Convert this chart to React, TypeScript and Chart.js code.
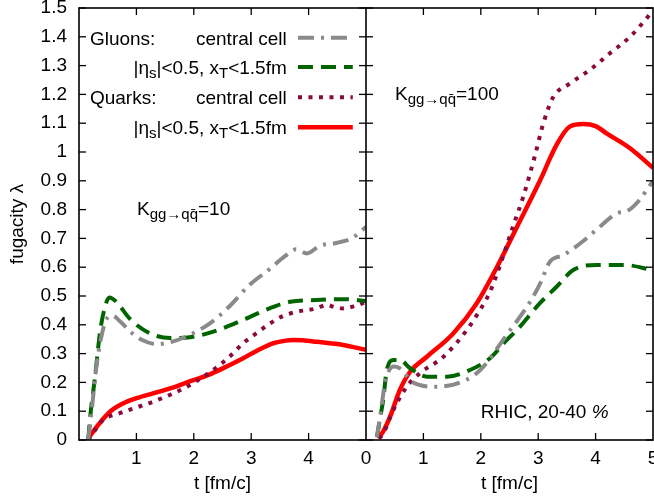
import React, { useEffect, useRef } from 'react';
import { Chart, registerables } from 'chart.js';

Chart.register(...registerables);

const FONT = '"Liberation Sans", Arial, Helvetica, sans-serif';

// ---- tick values / labels ----
const yTicks = [0, 0.1, 0.2, 0.3, 0.4, 0.5, 0.6, 0.7, 0.8, 0.9, 1.0, 1.1, 1.2, 1.3, 1.4, 1.5];
const yTickLabels = ['0', '0.1', '0.2', '0.3', '0.4', '0.5', '0.6', '0.7', '0.8', '0.9', '1', '1.1', '1.2', '1.3', '1.4', '1.5'];
const xTicksLeft = [1, 2, 3, 4];
const xTicksRight = [0, 1, 2, 3, 4, 5];
const innerTicks = [1, 2, 3, 4];

// ---- left panel (K = 10) ----
const gluCentralL_t = [0.16, 0.22, 0.3, 0.38, 0.48, 0.58, 0.7, 0.9, 1.1, 1.35, 1.6, 1.93, 2.28, 2.6, 2.98, 3.3, 3.6, 3.78, 3.97, 4.2, 4.5, 4.75, 5.0];
const gluCentralL_v = [0, 0.1, 0.25, 0.35, 0.42, 0.432, 0.415, 0.375, 0.347, 0.333, 0.34, 0.365, 0.405, 0.46, 0.54, 0.59, 0.64, 0.662, 0.648, 0.675, 0.685, 0.7, 0.74];

const gluEtaL_t = [0.16, 0.2, 0.28, 0.37, 0.45, 0.53, 0.65, 0.89, 1.24, 1.59, 1.93, 2.34, 2.86, 3.33, 3.68, 4.14, 4.6, 5.0];
const gluEtaL_v = [0, 0.09, 0.22, 0.38, 0.46, 0.495, 0.48, 0.42, 0.37, 0.354, 0.357, 0.376, 0.417, 0.458, 0.48, 0.486, 0.489, 0.483];

const qCentralL_t = [0.16, 0.3, 0.42, 0.71, 1.0, 1.29, 1.6, 1.88, 2.28, 2.6, 2.86, 3.1, 3.33, 3.55, 3.79, 4.14, 4.31, 4.45, 4.6, 4.8, 5.0];
const qCentralL_v = [0, 0.04, 0.07, 0.093, 0.113, 0.133, 0.158, 0.185, 0.235, 0.285, 0.336, 0.372, 0.405, 0.43, 0.445, 0.457, 0.469, 0.462, 0.457, 0.465, 0.48];

const qEtaL_t = [0.16, 0.31, 0.54, 0.77, 1.0, 1.29, 1.6, 1.88, 2.28, 2.6, 2.86, 3.1, 3.39, 3.6, 3.73, 3.9, 4.14, 4.6, 5.0];
const qEtaL_v = [0.005, 0.046, 0.098, 0.127, 0.145, 0.162, 0.18, 0.2, 0.228, 0.258, 0.284, 0.31, 0.336, 0.345, 0.347, 0.346, 0.341, 0.33, 0.313];

// ---- right panel (K = 100) ----
const gluCentralR_t = [0.19, 0.26, 0.33, 0.48, 0.59, 0.82, 1.23, 1.64, 1.99, 2.45, 2.86, 3.05, 3.2, 3.44, 3.78, 4.1, 4.37, 4.55, 4.75, 5.0];
const gluCentralR_v = [0.01, 0.1, 0.197, 0.255, 0.249, 0.2, 0.185, 0.2, 0.243, 0.365, 0.48, 0.55, 0.618, 0.642, 0.69, 0.745, 0.787, 0.795, 0.83, 0.9];

const gluEtaR_t = [0.19, 0.25, 0.3, 0.36, 0.48, 0.59, 0.77, 1.06, 1.41, 1.81, 2.16, 2.45, 2.63, 3.03, 3.32, 3.61, 4.02, 4.48, 5.0];
const gluEtaR_v = [0.01, 0.08, 0.14, 0.24, 0.278, 0.278, 0.249, 0.22, 0.22, 0.243, 0.284, 0.347, 0.382, 0.475, 0.532, 0.59, 0.608, 0.608, 0.59];

const qCentralR_t = [0.23, 0.32, 0.45, 0.71, 0.94, 1.35, 1.75, 1.95, 2.15, 2.35, 2.55, 2.74, 2.94, 3.09, 3.26, 3.55, 3.9, 4.25, 4.6, 5.0];
const qCentralR_v = [0.005, 0.03, 0.093, 0.185, 0.232, 0.289, 0.38, 0.44, 0.51, 0.615, 0.735, 0.845, 0.985, 1.1, 1.19, 1.238, 1.285, 1.343, 1.4, 1.49];

const qEtaR_t = [0.21, 0.3, 0.42, 0.59, 0.77, 1.06, 1.52, 1.93, 2.28, 2.63, 3.03, 3.32, 3.55, 3.79, 4.0, 4.19, 4.6, 5.0];
const qEtaR_v = [0.006, 0.03, 0.081, 0.174, 0.237, 0.289, 0.37, 0.475, 0.6, 0.74, 0.9, 1.025, 1.088, 1.097, 1.09, 1.065, 1.013, 0.945];

// ---- text ----
const xTitle = 't [fm/c]';
const yTitle = 'fugacity λ';
const legendGroups = ['Gluons:', '', 'Quarks:', ''];
const centralCellLabel = 'central cell';
const rhicLabel = 'RHIC, 20-40 ';
const kLeftValue = '=10';
const kRightValue = '=100';

// ---- styles ----
const GRAY = '#8a8a8a';
const GREEN = '#006400';
const PURPLE = '#8b0a3c';
const RED = '#ff0000';
const STYLE = [
  { color: GRAY, width: 4, dash: [16, 7, 3, 7] },
  { color: GREEN, width: 4, dash: [15, 8] },
  { color: PURPLE, width: 4, dash: [4, 6.5] },
  { color: RED, width: 4.5, dash: [] as number[] },
];

const zip = (t: number[], v: number[]) => t.map((x, i) => ({ x, y: v[i] }));

type Part = { t: string; sub?: boolean; italic?: boolean };
const MAIN = 19;
const SUB = 15;
const SUB_DY = 4;

function fontOf(p: Part) {
  return `${p.italic ? 'italic ' : ''}${p.sub ? SUB : MAIN}px ${FONT}`;
}
function richWidth(ctx: CanvasRenderingContext2D, parts: Part[]) {
  let w = 0;
  for (const p of parts) {
    ctx.font = fontOf(p);
    w += ctx.measureText(p.t).width;
  }
  return w;
}
function drawRich(ctx: CanvasRenderingContext2D, parts: Part[], x: number, y: number, align: 'left' | 'right') {
  const w = richWidth(ctx, parts);
  let cx = align === 'right' ? x - w : x;
  ctx.textAlign = 'left';
  ctx.textBaseline = 'alphabetic';
  for (const p of parts) {
    ctx.font = fontOf(p);
    ctx.fillText(p.t, cx, y + (p.sub ? SUB_DY : 0));
    cx += ctx.measureText(p.t).width;
  }
}

const etaLabel: Part[] = [
  { t: '|η' }, { t: 's', sub: true }, { t: '|<0.5, x' }, { t: 'T', sub: true }, { t: '<1.5fm' },
];
const kSub: Part = { t: 'gg→qq̄', sub: true };

// positions of annotations in data units
const legendRowY = [1.397, 1.295, 1.19, 1.086];
const legendGroupX = 0.19;
const legendTextRightX = 3.62;
const legendSampleX = [3.815, 4.77];
const kLeftPos = { x: 1.01, y: 0.781 };
const kRightPos = { x: 0.505, y: 1.18 };
const rhicPos = { x: 2.0, y: 0.076 };

const overlay = {
  id: 'overlay',
  afterDatasetsDraw(chart: any) {
    const { ctx, chartArea: a, scales } = chart;
    const y = scales.y;
    const x1 = scales.x1;
    const x2 = scales.x2;
    const TL = 7;
    ctx.save();
    const line = (ax: number, ay: number, bx: number, by: number) => {
      ctx.beginPath();
      ctx.moveTo(ax, ay);
      ctx.lineTo(bx, by);
      ctx.stroke();
    };
    ctx.setLineDash([]);
    ctx.strokeStyle = '#000';
    ctx.lineWidth = 1.3;
    const mid = x1.getPixelForValue(5);
    for (const v of yTicks) {
      const py = y.getPixelForValue(v);
      line(a.left, py, a.left + TL, py);
      line(mid - TL, py, mid + TL, py);
      line(a.right - TL, py, a.right, py);
    }
    for (const sc of [x1, x2]) {
      for (const v of innerTicks) {
        const px = sc.getPixelForValue(v);
        line(px, a.bottom, px, a.bottom - TL);
        line(px, a.top, px, a.top + TL);
      }
    }
    ctx.lineWidth = 1.6;
    ctx.strokeRect(a.left, a.top, a.right - a.left, a.bottom - a.top);
    line(mid, a.top, mid, a.bottom);

    // legend
    ctx.fillStyle = '#000';
    const labels: Part[][] = [[{ t: centralCellLabel }], etaLabel, [{ t: centralCellLabel }], etaLabel];
    legendRowY.forEach((ly, i) => {
      const py = y.getPixelForValue(ly);
      const base = py + 7;
      if (legendGroups[i]) drawRich(ctx, [{ t: legendGroups[i] }], x1.getPixelForValue(legendGroupX), base, 'left');
      drawRich(ctx, labels[i], x1.getPixelForValue(legendTextRightX), base, 'right');
      const s = STYLE[i];
      ctx.save();
      ctx.strokeStyle = s.color;
      ctx.lineWidth = s.width;
      ctx.setLineDash(s.dash);
      ctx.lineCap = 'butt';
      line(x1.getPixelForValue(legendSampleX[0]), py, x1.getPixelForValue(legendSampleX[1]), py);
      ctx.restore();
    });

    ctx.fillStyle = '#000';
    drawRich(ctx, [{ t: 'K' }, kSub, { t: kLeftValue }], x1.getPixelForValue(kLeftPos.x), y.getPixelForValue(kLeftPos.y), 'left');
    drawRich(ctx, [{ t: 'K' }, kSub, { t: kRightValue }], x2.getPixelForValue(kRightPos.x), y.getPixelForValue(kRightPos.y), 'left');
    drawRich(ctx, [{ t: rhicLabel }, { t: '%', italic: true }], x2.getPixelForValue(rhicPos.x), y.getPixelForValue(rhicPos.y), 'left');
    ctx.restore();
  },
};

function ds(t: number[], v: number[], styleIdx: number, xAxisID: string) {
  const s = STYLE[styleIdx];
  return {
    data: zip(t, v),
    xAxisID,
    yAxisID: 'y',
    borderColor: s.color,
    borderWidth: s.width,
    borderDash: s.dash,
    borderCapStyle: 'butt' as const,
    pointRadius: 0,
    fill: false,
    cubicInterpolationMode: 'monotone' as const,
  };
}

const tickFont = { family: FONT, size: 19 };

function xAxis(ticks: number[]) {
  return {
    type: 'linear' as const,
    position: 'bottom' as const,
    stack: 'x',
    stackWeight: 1,
    min: 0,
    max: 5,
    grid: { display: false, drawTicks: false },
    border: { display: false },
    afterBuildTicks: (s: any) => {
      s.ticks = ticks.map((v) => ({ value: v }));
    },
    ticks: {
      font: tickFont,
      color: '#000',
      padding: 7,
      maxRotation: 0,
      autoSkip: false,
      callback: (v: any) => String(v),
    },
    title: {
      display: true,
      text: xTitle,
      color: '#000',
      font: tickFont,
      padding: { top: 0, bottom: 6 },
    },
    afterFit: (s: any) => {
      s.height = 61;
      s.paddingLeft = 0;
      s.paddingRight = 0;
    },
  };
}

export default function App() {
  const ref = useRef<HTMLCanvasElement>(null);
  useEffect(() => {
    if (!ref.current) return;
    const chart = new Chart(ref.current, {
      type: 'line',
      data: {
        datasets: [
          ds(gluCentralL_t, gluCentralL_v, 0, 'x1'),
          ds(gluEtaL_t, gluEtaL_v, 1, 'x1'),
          ds(qCentralL_t, qCentralL_v, 2, 'x1'),
          ds(qEtaL_t, qEtaL_v, 3, 'x1'),
          ds(gluCentralR_t, gluCentralR_v, 0, 'x2'),
          ds(gluEtaR_t, gluEtaR_v, 1, 'x2'),
          ds(qCentralR_t, qCentralR_v, 2, 'x2'),
          ds(qEtaR_t, qEtaR_v, 3, 'x2'),
        ] as any,
      },
      options: {
        responsive: false,
        animation: false,
        layout: { padding: { left: 0, top: 8, right: 1, bottom: 0 } },
        plugins: { legend: { display: false }, tooltip: { enabled: false } },
        scales: {
          x1: xAxis(xTicksLeft),
          x2: xAxis(xTicksRight),
          y: {
            type: 'linear',
            position: 'left',
            min: 0,
            max: 1.5,
            grid: { display: false, drawTicks: false },
            border: { display: false },
            afterBuildTicks: (s: any) => {
              s.ticks = yTicks.map((v) => ({ value: v }));
            },
            ticks: {
              font: tickFont,
              color: '#000',
              padding: 12,
              autoSkip: false,
              callback: (_v: any, i: number) => yTickLabels[i],
            },
            title: {
              display: true,
              text: yTitle,
              color: '#000',
              font: tickFont,
              padding: { top: 6, bottom: 0 },
            },
            afterFit: (s: any) => {
              s.width = 79;
              s.paddingTop = 0;
              s.paddingBottom = 0;
            },
          },
        } as any,
      },
      plugins: [overlay],
    });
    return () => chart.destroy();
  }, []);
  return (
    <div style={{ position: 'absolute', left: 0, top: 0, width: 654, height: 501, background: '#fff' }}>
      <canvas ref={ref} width={654} height={501} style={{ width: 654, height: 501, display: 'block' }} />
    </div>
  );
}
